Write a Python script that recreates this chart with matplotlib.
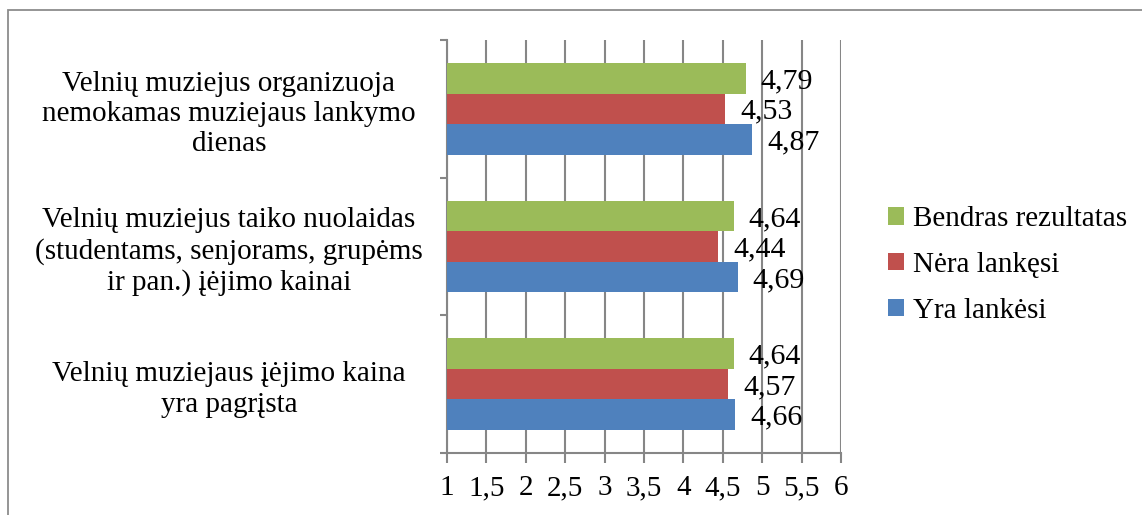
import matplotlib
matplotlib.use("Agg")
import matplotlib.pyplot as plt
from matplotlib.patches import Rectangle
from matplotlib.ticker import FuncFormatter
import numpy as np

plt.rcParams['font.family'] = ['Liberation Serif', 'DejaVu Serif']

# duomenys (iš apačios į viršų)
categories = [
    "Velnių muziejaus įėjimo kaina\nyra pagrįsta",
    "Velnių muziejus taiko nuolaidas\n(studentams, senjorams, grupėms\nir pan.) įėjimo kainai",
    "Velnių muziejus organizuoja\nnemokamas muziejaus lankymo\ndienas",
]
series_names = ["Yra lankėsi", "Nėra lankęsi", "Bendras rezultatas"]
yra = [4.66, 4.69, 4.87]
nera = [4.57, 4.44, 4.53]
bendras = [4.64, 4.64, 4.79]
colors = ["#4F81BD", "#C0504D", "#9BBB59"]

W, H = 1142, 515
fig = plt.figure(figsize=(W / 100, H / 100), dpi=100)
ax = fig.add_axes([447 / W, 1 - 453 / H, (841 - 447) / W, (453 - 40) / H])

# rėmelis aplink diagramą
fig.patches.append(Rectangle((8 / W, -0.2), 1.5, 1 - 10 / H + 0.2, transform=fig.transFigure,
                             fill=False, edgecolor="#8c8c8c", lw=1.3, clip_on=False))

y = np.arange(len(categories))
bh = 0.222
for i, (vals, name, c) in enumerate(zip([yra, nera, bendras], series_names, colors)):
    pos = y + (i - 1) * bh
    bars = ax.barh(pos, np.array(vals) - 1, left=1, height=bh, color=c, label=name, zorder=3)
    for p, v in zip(pos, vals):
        ax.annotate(f"{v:.2f}".replace(".", ","), (v, p), xytext=(15, -3),
                    textcoords="offset pixels", va="center", ha="left", fontsize=21.5, zorder=4)

ax.set_xlim(1, 6)
ax.set_ylim(-0.5, 2.5)
ax.set_xticks(np.arange(1, 6.01, 0.5))
ax.xaxis.set_major_formatter(FuncFormatter(lambda v, p: f"{v:g}".replace(".", ",")))
ax.grid(axis="x", color="#868686", lw=1.5, zorder=0)

ax.set_yticks(y)
ax.set_yticklabels(categories, fontsize=21, ha="center", multialignment="center", linespacing=1.22)
ax.set_yticks([-0.5, 0.5, 1.5, 2.5], minor=True)
ax.tick_params(axis="y", which="major", length=0, pad=157)
ax.tick_params(axis="y", which="minor", length=5, width=1.5, color="#868686")
ax.tick_params(axis="x", length=7, width=1.5, color="#868686", labelsize=21, pad=9)

for s in ["top", "right"]:
    ax.spines[s].set_visible(False)
for s in ["left", "bottom"]:
    ax.spines[s].set_color("#868686")
    ax.spines[s].set_linewidth(1.5)

h, l = ax.get_legend_handles_labels()
fig.legend(h[::-1], l[::-1], loc="center left", bbox_to_anchor=(888 / W, 1 - 265 / H),
           frameon=False, fontsize=21, handlelength=0.55, handleheight=0.55,
           handletextpad=0.3, labelspacing=0.68, borderpad=0, borderaxespad=0)

fig.savefig("out.png", dpi=100)
